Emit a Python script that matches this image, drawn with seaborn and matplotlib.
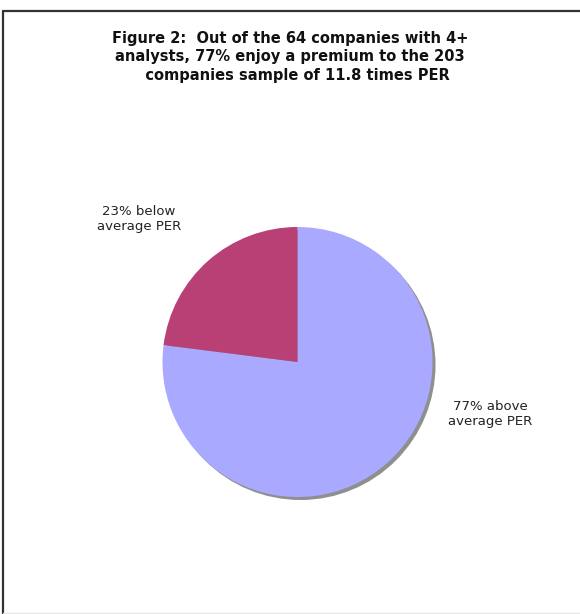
import matplotlib
matplotlib.use("Agg")
import matplotlib.pyplot as plt
from matplotlib.patches import Circle
from matplotlib.lines import Line2D
import seaborn as sns

categories = ["77% above\naverage PER", "23% below\naverage PER"]
values = [77, 23]
colors = ["#A9AAFF", "#B94075"]
title = "Figure 2:  Out of the 64 companies with 4+\nanalysts, 77% enjoy a premium to the 203\n   companies sample of 11.8 times PER"

sns.set_theme(style="white")
plt.rcParams['font.family'] = ['DejaVu Sans']

W, H = 580, 614
fig = plt.figure(figsize=(W / 100, H / 100), dpi=100)
fig.patch.set_facecolor("white")
ax = fig.add_axes([0, 0, 1, 1])
ax.set_xlim(0, W)
ax.set_ylim(H, 0)
ax.axis("off")

cx, cy, r = 297.5, 362, 135
# shadow
ax.add_patch(Circle((cx + 3, cy + 3), r, facecolor="#8f8f8f", edgecolor="none", zorder=1))
wedges, _ = ax.pie(values, colors=colors, startangle=-90, counterclock=True,
                   center=(cx, cy), radius=r, frame=True,
                   wedgeprops=dict(linewidth=0, zorder=2))
ax.set_xlim(0, W)
ax.set_ylim(H, 0)
ax.set_aspect("equal")
ax.axis("off")

ax.text(490, 414, categories[0], ha="center", va="center", fontsize=9.5, color="#222222", linespacing=1.25)
ax.text(139, 219, categories[1], ha="center", va="center", fontsize=9.5, color="#222222", linespacing=1.25)

fig.text(290 / W, 1 - 57 / H, title, ha="center", va="center", fontsize=10.5,
         fontweight="bold", color="#111111", linespacing=1.3)

# frame
fig.add_artist(Line2D([3 / W, 1], [1 - 10.5 / H, 1 - 10.5 / H], color="#333333", lw=1.6, transform=fig.transFigure))
fig.add_artist(Line2D([3 / W, 3 / W], [0, 1 - 10.5 / H], color="#333333", lw=1.6, transform=fig.transFigure))
fig.add_artist(Line2D([3 / W, 1], [1.5 / H, 1.5 / H], color="#e6e6e6", lw=1.0, transform=fig.transFigure))

fig.savefig("out.png", dpi=100, facecolor="white")
